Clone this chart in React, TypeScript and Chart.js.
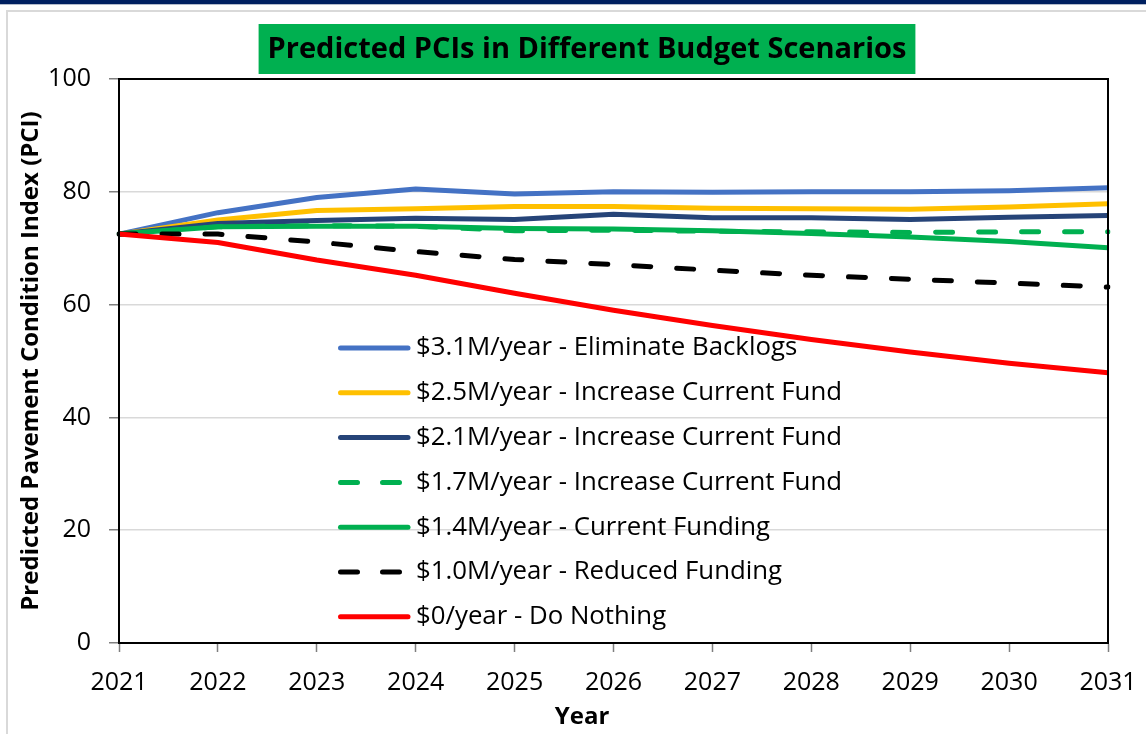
import React, { useEffect, useRef } from "react";
import { Chart, registerables } from "chart.js";

Chart.register(...registerables);

const years = ["2021", "2022", "2023", "2024", "2025", "2026", "2027", "2028", "2029", "2030", "2031"];
const yTicks = [0, 20, 40, 60, 80, 100];

const seriesNames = [
  "$3.1M/year - Eliminate Backlogs",
  "$2.5M/year - Increase Current Fund",
  "$2.1M/year - Increase Current Fund",
  "$1.7M/year - Increase Current Fund",
  "$1.4M/year - Current Funding",
  "$1.0M/year - Reduced Funding",
  "$0/year - Do Nothing",
];

const eliminateBacklogs = [72.5, 76.3, 79.0, 80.5, 79.6, 80.0, 79.9, 80.0, 80.0, 80.2, 80.7];
const increase25 = [72.5, 75.0, 76.7, 77.0, 77.4, 77.4, 77.1, 77.0, 76.9, 77.3, 77.9];
const increase21 = [72.5, 74.4, 74.9, 75.3, 75.1, 76.0, 75.4, 75.4, 75.1, 75.5, 75.8];
const increase17 = [72.5, 73.8, 74.0, 73.9, 73.1, 73.2, 73.0, 72.9, 72.8, 72.9, 72.9];
const currentFunding = [72.5, 73.8, 73.9, 73.9, 73.5, 73.4, 73.1, 72.6, 72.0, 71.2, 70.1];
const reducedFunding = [72.5, 72.5, 71.1, 69.4, 68.0, 67.1, 66.1, 65.2, 64.5, 63.8, 63.1];
const doNothing = [72.5, 71.0, 67.9, 65.2, 62.0, 59.0, 56.3, 53.8, 51.6, 49.6, 47.9];

const seriesValues = [eliminateBacklogs, increase25, increase21, increase17, currentFunding, reducedFunding, doNothing];
const seriesColors = ["#4472C4", "#FFC000", "#264478", "#00B050", "#00B050", "#000000", "#FF0000"];
const seriesDashed = [false, false, false, true, false, true, false];

const chartTitle = "Predicted PCIs in Different Budget Scenarios";
const yTitle = "Predicted Pavement Condition Index (PCI)";
const xTitle = "Year";

const FONT = "'Open Sans', sans-serif";
const DASH = [17, 26];

const decorPlugin = {
  id: "decor",
  afterDraw(chart: any) {
    const { ctx, chartArea: ca } = chart;
    ctx.save();
    // plot border
    ctx.strokeStyle = "#000";
    ctx.lineWidth = 2;
    ctx.setLineDash([]);
    ctx.strokeRect(ca.left, ca.top, ca.right - ca.left, ca.bottom - ca.top);

    // title box
    ctx.font = `bold 29px ${FONT}`;
    const tw = ctx.measureText(chartTitle).width;
    const cx = 587;
    ctx.fillStyle = "#00B050";
    ctx.fillRect(cx - tw / 2 - 9, 24, tw + 18, 50);
    ctx.fillStyle = "#000";
    ctx.textAlign = "center";
    ctx.textBaseline = "middle";
    ctx.fillText(chartTitle, cx, 50);

    // x title
    ctx.font = `bold 24px ${FONT}`;
    ctx.fillText(xTitle, 582, 717);

    // legend
    ctx.font = `25.8px ${FONT}`;
    ctx.textAlign = "left";
    seriesNames.forEach((name, i) => {
      const y = 348 + i * 44.8;
      ctx.strokeStyle = seriesColors[i];
      ctx.lineWidth = 5;
      ctx.lineCap = "round";
      ctx.setLineDash(seriesDashed[i] ? [17, 25] : []);
      ctx.beginPath();
      ctx.moveTo(340.5, y);
      ctx.lineTo(seriesDashed[i] ? 399.5 : 408, y);
      ctx.stroke();
      ctx.setLineDash([]);
      ctx.fillStyle = "#000";
      ctx.fillText(name, 416, y);
    });
    ctx.restore();
  },
};

export default function App() {
  const ref = useRef<HTMLCanvasElement>(null);
  useEffect(() => {
    if (!ref.current) return;
    const chart = new Chart(ref.current, {
      type: "line",
      data: {
        labels: years,
        datasets: seriesNames.map((name, i) => ({
          label: name,
          data: seriesValues[i],
          borderColor: seriesColors[i],
          backgroundColor: seriesColors[i],
          borderWidth: 5,
          borderDash: seriesDashed[i] ? DASH : [],
          borderCapStyle: seriesDashed[i] ? "round" : "butt",
          borderJoinStyle: "round",
          pointRadius: 0,
          tension: 0,
          fill: false,
          order: seriesNames.length - i,
        })),
      },
      options: {
        animation: false,
        responsive: false,
        devicePixelRatio: 1,
        layout: { padding: { top: 79, right: 38, left: 0, bottom: 0 } },
        plugins: {
          legend: { display: false },
          title: { display: false },
          tooltip: { enabled: false },
        },
        scales: {
          x: {
            type: "category",
            offset: false,
            grid: { drawOnChartArea: false, drawTicks: true, tickLength: 9, tickColor: "#7f7f7f", tickWidth: 1.5 },
            border: { display: true, color: "#000", width: 2 },
            ticks: { color: "#000", font: { family: FONT, size: 25 }, padding: 16, maxRotation: 0, autoSkip: false },
            afterFit: (s: any) => { s.height = 91; s.paddingLeft = 0; s.paddingRight = 0; },
          },
          y: {
            min: 0,
            max: 100,
            afterBuildTicks: (s: any) => { s.ticks = yTicks.map((v) => ({ value: v })); },
            ticks: { color: "#000", font: { family: FONT, size: 25 }, padding: 18 },
            grid: {
              color: (c: any) => (c.tick && (c.tick.value === 0 || c.tick.value === 100) ? "rgba(0,0,0,0)" : "#d9d9d9"),
              lineWidth: 1.5,
              tickColor: "#7f7f7f",
              tickLength: 10,
              tickWidth: 1.5,
            },
            border: { display: true, color: "#000", width: 2 },
            title: {
              display: true,
              text: yTitle,
              color: "#000",
              font: { family: FONT, size: 24, weight: "bold" },
              padding: { top: 17, bottom: 0 },
            },
            afterFit: (s: any) => { s.width = 119; s.paddingTop = 0; s.paddingBottom = 0; },
          },
        },
      },
      plugins: [decorPlugin],
    } as any);
    return () => chart.destroy();
  }, []);

  return (
    <div style={{ position: "fixed", left: 0, top: 0, width: 1146, height: 734, overflow: "hidden", background: "#fff" }}>
      <div style={{ position: "absolute", left: 0, top: 0, width: "100%", height: 4, background: "#002060" }} />
      <div style={{ position: "absolute", left: 0, top: 4, width: "100%", height: 1, background: "#b4bccc" }} />
      <div style={{ position: "absolute", left: 6, top: 10, width: 1200, height: 800, border: "2px solid #d9d9d9" }} />
      <canvas ref={ref} width={1146} height={734} style={{ position: "absolute", left: 0, top: 0 }} />
    </div>
  );
}
